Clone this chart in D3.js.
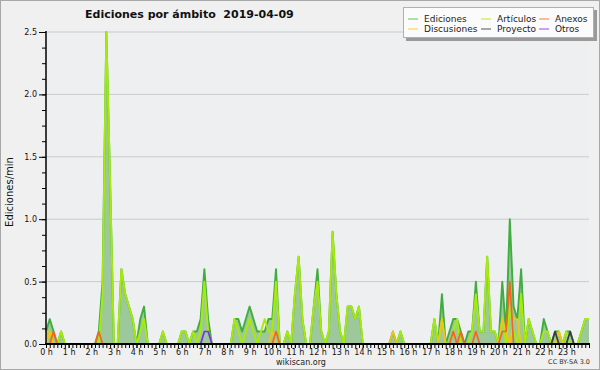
<!DOCTYPE html>
<html>
<head>
<meta charset="utf-8" />
<title>Ediciones por ámbito</title>
<style>
body { margin: 0; background: #f0f0f0; }
text { font-family: "DejaVu Sans", sans-serif; }
</style>
</head>
<body>
<div id="chart"></div>
<script src="https://d3js.org/d3.v7.min.js"></script>
<script>
// one value every 10 minutes (edits per minute), 0 h .. 24 h
var ediciones = [
  0.1,0.2,0.1,0,0.1,0,      0,0,0,0,0,0,
  0,0,0.1,0.5,2.5,1.3,      0,0,0.6,0.4,0.3,0.2,
  0,0.2,0.3,0,0,0,          0,0.1,0,0,0,0,
  0.1,0.1,0,0.1,0.1,0.2,    0.6,0.2,0,0,0,0,
  0,0,0.2,0.2,0.1,0.2,      0.3,0.2,0.1,0.1,0.1,0.2,
  0.2,0.6,0,0,0.1,0,        0.4,0.7,0.2,0,0,0.3,
  0.6,0.1,0,0.1,0.9,0.4,    0.1,0,0.3,0.3,0.2,0.3,
  0,0,0,0,0,0,              0,0,0.1,0,0.1,0,
  0,0,0,0,0,0,              0,0.2,0,0.4,0,0.1,
  0.2,0.2,0.1,0,0.1,0.1,    0.5,0.1,0.1,0.7,0.1,0.1,
  0,0.5,0.1,1.0,0.3,0.2,    0.6,0,0.2,0.1,0,0,
  0.2,0.1,0,0.1,0.1,0,      0.1,0.1,0,0,0.1,0.2,
  0.2
];
var articulos = [
  0.1,0.1,0,0,0.1,0,        0,0,0,0,0,0,
  0,0,0,0.4,2.5,1.3,        0,0,0.6,0.4,0.3,0.2,
  0,0.1,0.2,0,0,0,          0,0.1,0,0,0,0,
  0.1,0.1,0,0.1,0,0.1,      0.5,0.1,0,0,0,0,
  0,0,0.2,0.1,0,0.1,        0.2,0.1,0,0.1,0.2,0.1,
  0.1,0.5,0,0,0.1,0,        0.4,0.7,0.2,0,0,0.3,
  0.5,0.1,0,0.1,0.9,0.4,    0.1,0,0.3,0.3,0.2,0.3,
  0,0,0,0,0,0,              0,0,0,0,0.1,0,
  0,0,0,0,0,0,              0,0.2,0,0.2,0,0,
  0.1,0.2,0,0,0,0.1,        0.4,0.1,0.1,0.7,0.1,0.1,
  0,0.2,0,0.3,0.1,0,        0.4,0,0.2,0.1,0,0,
  0.1,0.1,0,0,0.1,0,        0.1,0,0,0,0.1,0.2,
  0.2
];
var anexos = [
  0,0,0.1,0,0,0,            0,0,0,0,0,0,
  0,0,0.1,0,0,0,            0,0,0,0,0,0,
  0,0,0,0,0,0,              0,0,0,0,0,0,
  0,0,0,0,0,0,              0,0,0,0,0,0,
  0,0,0,0,0,0,              0,0,0,0,0,0,
  0,0.1,0,0,0,0,            0,0,0,0,0,0,
  0,0,0,0,0,0,              0,0,0,0,0,0,
  0,0,0,0,0,0,              0,0,0,0,0,0,
  0,0,0,0,0,0,              0,0,0,0,0,0,
  0.1,0,0.1,0,0,0,          0.1,0,0,0,0,0,
  0,0.1,0.1,0.5,0,0,        0,0,0,0,0,0,
  0,0,0,0,0,0,              0,0,0,0,0,0,
  0
];
var discusiones = [
  0,0.1,0,0,0,0,            0,0,0,0,0,0,
  0,0,0,0,0,0,              0,0,0,0,0,0,
  0,0,0,0,0,0,              0,0,0,0,0,0,
  0,0,0,0,0,0,              0,0,0,0,0,0,
  0,0,0,0,0,0,              0,0,0,0,0,0,
  0.1,0,0,0,0,0,            0,0,0,0,0,0,
  0,0,0,0,0,0,              0,0,0,0,0,0,
  0,0,0,0,0,0,              0,0,0.1,0,0,0,
  0,0,0,0,0,0,              0,0,0,0.2,0,0,
  0,0,0,0,0,0,              0,0,0,0,0,0,
  0,0.2,0.1,0,0.2,0.2,      0,0,0,0,0,0,
  0,0,0,0,0.1,0,            0,0,0,0,0,0,
  0
];
var proyecto = [
  0,0,0,0,0,0, 0,0,0,0,0,0, 0,0,0,0,0,0, 0,0,0,0,0,0,
  0,0,0,0,0,0, 0,0,0,0,0,0, 0,0,0,0,0,0, 0,0,0,0,0,0,
  0,0,0,0,0,0, 0,0,0,0,0,0, 0,0,0,0,0,0, 0,0,0,0,0,0,
  0,0,0,0,0,0, 0,0,0,0,0,0, 0,0,0,0,0,0, 0,0,0,0,0,0,
  0,0,0,0,0,0, 0,0,0,0,0,0, 0,0,0,0,0,0, 0,0,0,0,0,0,
  0,0,0,0,0,0, 0,0,0,0,0,0, 0,0,0,0.1,0,0, 0,0.1,0,0,0,0,
  0
];
var otros = [
  0,0,0,0,0,0, 0,0,0,0,0,0, 0,0,0,0,0,0, 0,0,0,0,0,0,
  0,0,0,0,0,0, 0,0,0,0,0,0, 0,0,0,0,0,0, 0.1,0.1,0,0,0,0,
  0,0,0,0,0,0, 0,0,0,0,0,0, 0,0,0,0,0,0, 0,0,0,0,0,0,
  0,0,0,0,0,0, 0,0,0,0,0,0, 0,0,0,0,0,0, 0,0,0,0,0,0,
  0,0,0,0,0,0, 0,0,0,0,0,0, 0,0,0,0,0,0, 0,0,0,0,0,0,
  0,0,0,0,0,0, 0,0,0,0,0,0, 0,0,0,0,0,0, 0,0,0,0,0,0,
  0
];
var hourLabels = ['0 h','1 h','2 h','3 h','4 h','5 h','6 h','7 h','8 h','9 h','10 h','11 h',
  '12 h','13 h','14 h','15 h','16 h','17 h','18 h','19 h','20 h','21 h','22 h','23 h'];
var yTicks = [0, 0.5, 1.0, 1.5, 2.0, 2.5];
var legendNames = ['Ediciones', 'Discusiones', 'Artículos', 'Proyecto', 'Anexos', 'Otros'];
var legendColors = ['#5cc35c', '#ffcc33', '#b8ee22', '#555555', '#ff7a3a', '#9944ff'];

(function(d3) {
'use strict';
var width = 600, height = 370;
var left = 46, right = 589, top = 32, bottom = 344;

var svg = d3.select('#chart').append('svg')
  .attr('width', width).attr('height', height);

svg.append('rect').attr('x', 0.5).attr('y', 0.5)
  .attr('width', width - 1).attr('height', height - 1)
  .attr('fill', '#f0f0f0').attr('stroke', '#a8a8a8');

svg.append('rect').attr('x', left).attr('y', top - 4)
  .attr('width', right - left).attr('height', bottom - top + 4)
  .attr('fill', '#eeeff1');

var x = d3.scaleLinear().domain([0, 24]).range([left, right]);
var y = d3.scaleLinear().domain([0, 2.5]).range([bottom, top]);

// grid
svg.append('g').selectAll('line')
  .data(yTicks.slice(1)).enter().append('line')
  .attr('x1', left).attr('x2', right)
  .attr('y1', function(d) { return y(d); }).attr('y2', function(d) { return y(d); })
  .attr('stroke', '#cbcbcb').attr('stroke-width', 1);

var px = function(d, i) { return x(i / 6); };

var area = d3.area().x(px).y0(bottom).y1(function(d) { return y(d); });
svg.append('path').datum(ediciones)
  .attr('d', area).attr('fill', '#9cc89c');

var line = d3.line().x(px).y(function(d) { return y(d); });
var series = [
  { values: ediciones, color: '#3fae3f', w: 1.9 },
  { values: articulos, color: '#a8ea0a', w: 1.9 },
  { values: discusiones, color: '#f5c21c', w: 1.7 },
  { values: anexos, color: '#f2661e', w: 1.7 },
  { values: proyecto, color: '#3c3c3c', w: 1.7 },
  { values: otros, color: '#7a30f0', w: 1.7 }
];
series.forEach(function(s) {
  svg.append('path').datum(s.values)
    .attr('d', line).attr('fill', 'none')
    .attr('stroke', s.color).attr('stroke-width', s.w)
    .attr('stroke-linejoin', 'round');
});

// y axis
var yMinor = svg.append('g').attr('transform', 'translate(' + left + ',0)')
  .call(d3.axisLeft(y).tickValues(d3.range(0, 21).map(function(k) { return k / 8; }))
    .tickSize(4).tickFormat(''));
var yAxis = svg.append('g').attr('transform', 'translate(' + left + ',0)')
  .call(d3.axisLeft(y).tickValues(yTicks).tickSize(7).tickPadding(2)
    .tickFormat(d3.format('.1f')));

// x axis
var xMinor = svg.append('g').attr('transform', 'translate(0,' + bottom + ')')
  .call(d3.axisBottom(x).tickValues(d3.range(0, 145).map(function(k) { return k / 6; }))
    .tickSize(4).tickFormat(''));
var xAxis = svg.append('g').attr('transform', 'translate(0,' + bottom + ')')
  .call(d3.axisBottom(x).tickValues(d3.range(0, 24)).tickSize(4).tickPadding(1)
    .tickFormat(function(d) { return hourLabels[d]; }));

[yMinor, yAxis, xMinor, xAxis].forEach(function(g) {
  g.select('.domain').remove();
  g.selectAll('line').attr('stroke', '#000');
  g.selectAll('text').attr('font-family', '"DejaVu Sans", sans-serif')
    .attr('font-size', 8).attr('fill', '#111');
});

svg.append('line').attr('x1', left).attr('x2', left)
  .attr('y1', top - 1).attr('y2', bottom + 1)
  .attr('stroke', '#000').attr('stroke-width', 1.5);
svg.append('line').attr('x1', left - 1).attr('x2', right + 1)
  .attr('y1', bottom).attr('y2', bottom)
  .attr('stroke', '#000').attr('stroke-width', 2);

// titles
svg.append('text').attr('x', 85).attr('y', 18)
  .attr('font-size', 11).attr('font-weight', 'bold').attr('fill', '#111')
  .attr('xml:space', 'preserve')
  .text('Ediciones por ámbito  2019-04-09');

svg.append('text')
  .attr('transform', 'translate(13,192) rotate(-90)')
  .attr('text-anchor', 'middle').attr('font-size', 10).attr('fill', '#111')
  .text('Ediciones/min');

svg.append('text').attr('x', 301).attr('y', 365)
  .attr('text-anchor', 'middle').attr('font-size', 8).attr('fill', '#222')
  .text('wikiscan.org');

svg.append('text').attr('x', 590).attr('y', 364)
  .attr('text-anchor', 'end').attr('font-size', 6.5).attr('fill', '#333')
  .text('CC BY-SA 3.0');

// legend
var lg = svg.append('g');
lg.append('rect').attr('x', 406).attr('y', 10).attr('width', 191).attr('height', 31)
  .attr('fill', '#9a9a9a');
lg.append('rect').attr('x', 403.5).attr('y', 7.5).attr('width', 190).attr('height', 30)
  .attr('fill', '#fbfbfb').attr('stroke', '#b0b0b0');
var colX = [408, 481, 539];
var rowY = [19, 29];
legendNames.forEach(function(name, i) {
  var cx = colX[Math.floor(i / 2)], cy = rowY[i % 2];
  lg.append('line').attr('x1', cx).attr('x2', cx + 10)
    .attr('y1', cy).attr('y2', cy)
    .attr('stroke', legendColors[i]).attr('stroke-width', 1);
  lg.append('text').attr('x', cx + 16).attr('y', cy + 3)
    .attr('font-size', 9).attr('fill', '#222').text(name);
});
})(window.d3);
</script>
</body>
</html>
